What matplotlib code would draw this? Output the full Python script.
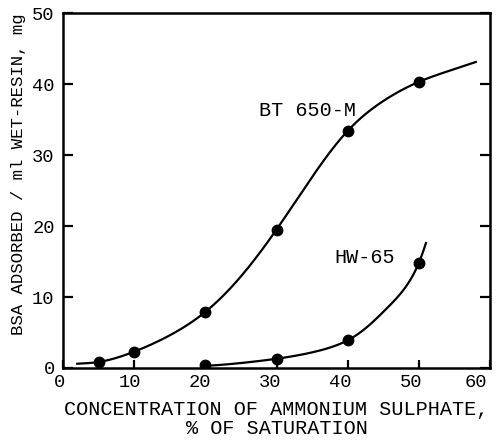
import matplotlib
matplotlib.use('Agg')
import matplotlib.pyplot as plt
import matplotlib.transforms as mtransforms
import numpy as np

plt.rcParams['font.family'] = ['Liberation Mono', 'DejaVu Sans Mono']

# ---------- Dados ---------- #
bt_x = [5, 10, 20, 30, 40, 50]
bt_y = [0.8, 2.3, 7.9, 19.5, 33.4, 40.3]
hw_x = [20, 30, 40, 50]
hw_y = [0.4, 1.3, 3.9, 14.8]

# curvas desenhadas à mão
bt_curve_x = [2, 5, 10, 15, 20, 25, 30, 35, 40, 45, 50, 55, 58]
bt_curve_y = [0.6, 0.85, 2.3, 4.6, 7.9, 12.9, 19.5, 26.9, 33.4, 37.6, 40.3, 42.1, 43.1]
hw_curve_x = [20, 25, 30, 35, 40, 45, 50, 51]
hw_curve_y = [0.3, 0.7, 1.3, 2.2, 3.9, 7.9, 14.8, 17.6]

x_ticks = [0, 10, 20, 30, 40, 50, 60]
y_ticks = [0, 10, 20, 30, 40, 50]


def suaviza(xs, ys, n=400, log=False):
    # spline cubica natural, só para desenhar a curva lisa
    x = np.asarray(xs, float)
    y = np.asarray(ys, float)
    if log:
        y = np.log(y)
    k = len(x)
    h = np.diff(x)
    A = np.zeros((k, k))
    b = np.zeros(k)
    A[0, 0] = A[-1, -1] = 1
    for i in range(1, k - 1):
        A[i, i - 1] = h[i - 1]
        A[i, i] = 2 * (h[i - 1] + h[i])
        A[i, i + 1] = h[i]
        b[i] = 6 * ((y[i + 1] - y[i]) / h[i] - (y[i] - y[i - 1]) / h[i - 1])
    M = np.linalg.solve(A, b)
    xx = np.linspace(x[0], x[-1], n)
    j = np.clip(np.searchsorted(x, xx) - 1, 0, k - 2)
    a = x[j + 1] - xx
    c = xx - x[j]
    hj = h[j]
    yy = (M[j] * a**3 / (6 * hj) + M[j + 1] * c**3 / (6 * hj)
          + (y[j] / hj - M[j] * hj / 6) * a + (y[j + 1] / hj - M[j + 1] * hj / 6) * c)
    if log:
        yy = np.exp(yy)
    return xx, yy


fig = plt.figure(figsize=(5.01, 4.40), dpi=100)
ax = fig.add_axes([63 / 501, 1 - 368 / 440, 427 / 501, 355 / 440])

cx, cy = suaviza(bt_curve_x, bt_curve_y)
ax.plot(cx, cy, color='black', lw=1.6, zorder=2)
cx, cy = suaviza(hw_curve_x, hw_curve_y, log=True)
ax.plot(cx, cy, color='black', lw=1.6, zorder=2)

ax.plot(bt_x, bt_y, 'o', color='black', ms=7.5, zorder=3)
ax.plot(hw_x, hw_y, 'o', color='black', ms=7.5, zorder=3)

ax.text(27.5, 36.3, 'BT 650-M', fontsize=14.5, ha='left', va='center')
ax.text(38.2, 15.5, 'HW-65', fontsize=14.5, ha='left', va='center')

ax.set_xlim(0, 60)
ax.set_ylim(0, 50)
ax.set_xticks(x_ticks)
ax.set_yticks(y_ticks)
ax.tick_params(axis='both', direction='in', width=1.6, labelsize=13.5)
ax.tick_params(axis='y', length=7, pad=6, right=True)
ax.tick_params(axis='x', length=6, pad=4)
# unico tick no topo (em 50)
ax.set_xticks([50], minor=True)
ax.tick_params(axis='x', which='minor', bottom=False, top=True, direction='in', length=6, width=1.6)
for s in ax.spines.values():
    s.set_linewidth(1.8)

# rótulos do eixo x levemente deslocados como no original
desloc = [-3, -4, -5, -6, -7, -8, -14]
for lab, d in zip(ax.get_xticklabels(), desloc):
    lab.set_transform(lab.get_transform() + mtransforms.ScaledTranslation(d / 100, 0, fig.dpi_scale_trans))

ax.set_xlabel('CONCENTRATION OF AMMONIUM SULPHATE,\n% OF SATURATION',
              fontsize=14.5, linespacing=0.95, labelpad=7)
ax.set_ylabel('BSA ADSORBED / ml WET-RESIN, mg', fontsize=12.5)
ax.yaxis.set_label_coords(-0.087, 0.546)

fig.savefig('out.png', dpi=100)
